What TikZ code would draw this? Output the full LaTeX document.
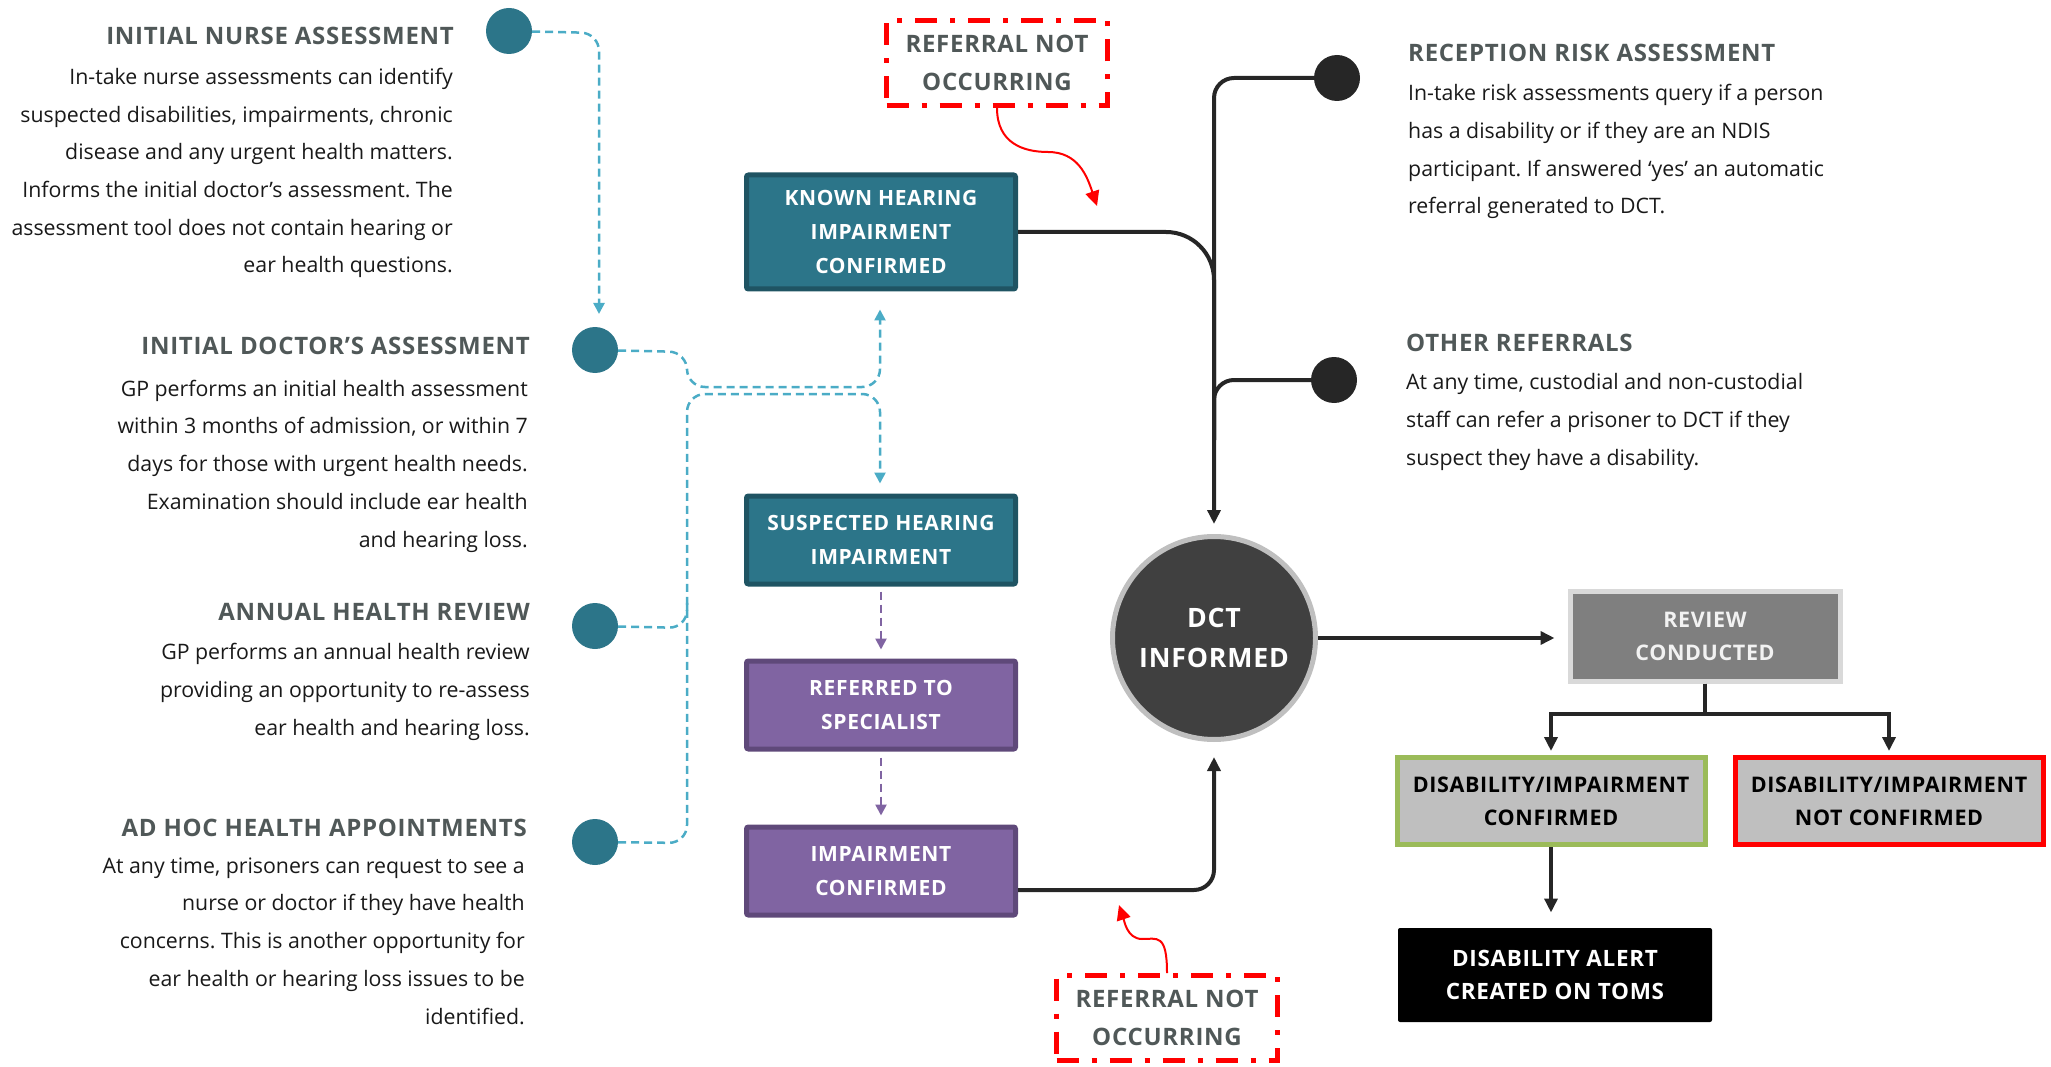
\documentclass[tikz,border=0pt]{standalone}
\usepackage{fontspec}
\setmainfont{Open Sans}
\newfontfamily\capsfont[LetterSpace=3]{Open Sans}
\frenchspacing
\usetikzlibrary{arrows.meta}
\definecolor{tealfill}{RGB}{44,117,137}
\definecolor{tealedge}{RGB}{31,84,99}
\definecolor{tealline}{RGB}{75,172,198}
\definecolor{purplefill}{RGB}{128,100,162}
\definecolor{purpleedge}{RGB}{95,73,122}
\definecolor{headgray}{RGB}{80,88,88}
\definecolor{inkblack}{RGB}{38,38,38}
\definecolor{dctfill}{RGB}{64,64,64}
\definecolor{ringgray}{RGB}{191,191,191}
\definecolor{reviewfill}{RGB}{127,127,127}
\definecolor{reviewedge}{RGB}{217,217,217}
\definecolor{boxgray}{RGB}{191,191,191}
\definecolor{okgreen}{RGB}{155,187,89}
\definecolor{alarmred}{RGB}{255,0,0}
\begin{document}
\begin{tikzpicture}
      [x=1pt, y=-1pt,
       heading/.style={font=\capsfont\bfseries\fontsize{24}{28}\selectfont, text=headgray, inner sep=0pt},
       bodytext/.style={font=\fontsize{21.3}{37.7}\selectfont, text=black!90, inner sep=0pt},
       bullet/.style={circle, minimum size=46pt, inner sep=0pt},
       stepbox/.style={rectangle, rounded corners=2pt, line width=5pt, minimum width=269pt, inner sep=0pt,
         text=white, align=center, font=\capsfont\bfseries\fontsize{21}{34}\selectfont},
       outcome/.style={rectangle, line width=5pt, inner sep=0pt, align=center,
         font=\capsfont\bfseries\fontsize{21.5}{33}\selectfont},
       missing/.style={rectangle, draw=alarmred, line width=5pt, dash pattern=on 22pt off 13pt on 5pt off 13pt,
         minimum width=221pt, minimum height=85pt, inner sep=0pt, align=center, text=headgray,
         font=\capsfont\bfseries\fontsize{24}{38}\selectfont},
       tealflow/.style={draw=tealline, line width=2.5pt, dash pattern=on 8pt off 5pt, rounded corners=18pt},
       purpleflow/.style={draw=purplefill, line width=2.5pt, dash pattern=on 8pt off 5pt, -{Triangle[length=11pt,width=11pt]}},
       flow/.style={draw=inkblack, line width=4pt, rounded corners=20pt},
       missflow/.style={draw=alarmred, line width=2pt, -{Triangle[length=15pt,width=14pt]}}]
      \useasboundingbox (0,0) rectangle (2051,1067);
      \node[bullet, fill=tealfill](nurse) at (509, 31) {};
      \node[bullet, fill=tealfill](doctor) at (595, 350) {};
      \node[bullet, fill=tealfill](annual) at (595, 626) {};
      \node[bullet, fill=tealfill](adhoc) at (595, 842) {};
      \node[bullet, fill=inkblack](reception) at (1337, 78) {};
      \node[bullet, fill=inkblack](other) at (1334, 380) {};
      \node[heading, anchor=base east](nursehead) at (454, 45) {INITIAL NURSE ASSESSMENT};
      \node[bodytext, anchor=base east, align=right](nursetext) at (453, 273) {In-take nurse assessments can identify\\suspected disabilities, impairments, chronic\\disease and any urgent health matters.\\Informs the initial doctor’s assessment. The\\assessment tool does not contain hearing or\\ear health questions.};
      \node[heading, anchor=base east](doctorhead) at (530, 354) {INITIAL DOCTOR’S ASSESSMENT};
      \node[bodytext, anchor=base east, align=right](doctortext) at (528, 547) {GP performs an initial health assessment\\within 3 months of admission, or within 7\\days for those with urgent health needs.\\Examination should include ear health\\and hearing loss.};
      \node[heading, anchor=base east](annualhead) at (530, 620) {ANNUAL HEALTH REVIEW};
      \node[bodytext, anchor=base east, align=right](annualtext) at (530, 735) {GP performs an annual health review\\providing an opportunity to re-assess\\ear health and hearing loss.};
      \node[heading, anchor=base east](adhochead) at (527, 836) {AD HOC HEALTH APPOINTMENTS};
      \node[bodytext, anchor=base east, align=right](adhoctext) at (525, 1024) {At any time, prisoners can request to see a\\nurse or doctor if they have health\\concerns. This is another opportunity for\\ear health or hearing loss issues to be\\identified.};
      \node[heading, anchor=base west](receptionhead) at (1408, 62) {RECEPTION RISK ASSESSMENT};
      \node[bodytext, anchor=base west, align=left](receptiontext) at (1408, 214) {In-take risk assessments query if a person\\has a disability or if they are an NDIS\\participant. If answered ‘yes’ an automatic\\referral generated to DCT.};
      \node[heading, anchor=base west](otherhead) at (1406, 352) {OTHER REFERRALS};
      \node[bodytext, anchor=base west, align=left](othertext) at (1406, 465) {At any time, custodial and non-custodial\\staff can refer a prisoner to DCT if they\\suspect they have a disability.};
      \node[stepbox, fill=tealfill, draw=tealedge, minimum height=114pt](known) at (881, 232) {KNOWN HEARING\\IMPAIRMENT\\CONFIRMED};
      \node[stepbox, fill=tealfill, draw=tealedge, minimum height=88pt](suspected) at (881, 540) {SUSPECTED HEARING\\IMPAIRMENT};
      \node[stepbox, fill=purplefill, draw=purpleedge, minimum height=88pt](referred) at (881, 705) {REFERRED TO\\SPECIALIST};
      \node[stepbox, fill=purplefill, draw=purpleedge, minimum height=88pt](impconf) at (881, 871) {IMPAIRMENT\\CONFIRMED};
      \node[circle, fill=dctfill, draw=ringgray, line width=5pt, minimum size=203pt, inner sep=0pt, align=center,
        text=white, font=\capsfont\bfseries\fontsize{26.7}{40}\selectfont](dct) at (1214, 638) {DCT\\INFORMED};
      \node[outcome, fill=reviewfill, draw=reviewedge, text=white!95!black, minimum width=270pt, minimum height=90pt](review) at (1705, 636) {REVIEW\\CONDUCTED};
      \node[outcome, fill=boxgray, draw=okgreen, text=black, minimum width=308pt, minimum height=87pt](confirmed) at (1551, 801) {DISABILITY/IMPAIRMENT\\CONFIRMED};
      \node[outcome, fill=boxgray, draw=alarmred, text=black, minimum width=308pt, minimum height=87pt](notconfirmed) at (1889, 801) {DISABILITY/IMPAIRMENT\\NOT CONFIRMED};
      \node[outcome, fill=black, text=white, rounded corners=2pt, minimum width=314pt, minimum height=94pt, font=\capsfont\bfseries\fontsize{22.5}{33}\selectfont](alert) at (1555, 975) {DISABILITY ALERT\\CREATED ON TOMS};
      \node[missing](misstop) at (997, 63) {REFERRAL NOT\\OCCURRING};
      \node[missing](missbottom) at (1167, 1018) {REFERRAL NOT\\OCCURRING};
      \coordinate(trunk) at (1214, 440);
      \coordinate(impout) at (1018, 890);
      \coordinate(misstoptip) at (1097, 206);
      \coordinate(missbottomtip) at (1119, 905);
      \draw[tealflow, -{Triangle[length=11pt,width=11pt]}](nurse) -- (599, 33) -- (599, 314);
      \draw[tealflow, shorten >=18pt, -{Triangle[length=11pt,width=11pt]}](doctor) -- (687, 352) -- (687, 387) -- (880, 387) -- (known.south -| 880, 0);
      \draw[tealflow, shorten >=10pt, -{Triangle[length=11pt,width=11pt]}](adhoc) -- (687, 843) -- (687, 394) -- (880, 394) -- (suspected.north -| 880, 0);
      \draw[tealflow](annual) -- (687, 628) -- (687, 598);
      \draw[purpleflow, shorten <=5pt, shorten >=9pt](suspected) -- (referred);
      \draw[purpleflow, shorten <=6pt, shorten >=9pt](referred) -- (impconf);
      \draw[flow, shorten >=10pt, -{Triangle[length=14pt,width=13pt]}](reception) -| (dct.north);
      \draw[flow, rounded corners=48pt](known.east) -| (trunk);
      \draw[flow](other) -| (trunk);
      \draw[flow, shorten >=15pt, -{Triangle[length=14pt,width=13pt]}](impout) -| (dct.south);
      \draw[flow, shorten >=13pt, -{Triangle[length=14pt,width=13pt]}](dct.east) -- (dct.east -| review.west);
      \draw[flow, rounded corners=0pt, shorten >=4pt, -{Triangle[length=14pt,width=13pt]}](review.south) -- ++(0, 30) -| (confirmed.north);
      \draw[flow, rounded corners=0pt, shorten >=4pt, -{Triangle[length=14pt,width=13pt]}](review.south) -- ++(0, 30) -| (notconfirmed.north);
      \draw[flow, shorten >=13pt, -{Triangle[length=14pt,width=13pt]}](confirmed.south) -- (confirmed.south |- alert.north);
      \draw[missflow](misstop.south) .. controls +(0, 35) and +(-25, 0) .. (1048, 152) .. controls +(30, 0) and +(-10, -30) .. (misstoptip);
      \draw[missflow](missbottom.north) .. controls +(0, -40) and +(15, 0) .. (1142, 939) .. controls +(-15, 0) and +(5, 15) .. (missbottomtip);
  \end{tikzpicture}
\end{document}
